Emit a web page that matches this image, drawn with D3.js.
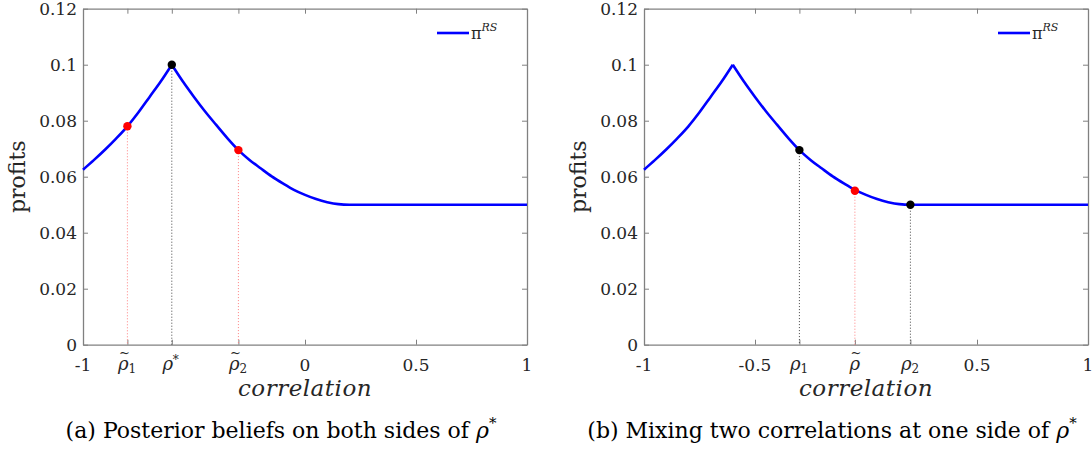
<!DOCTYPE html>
<html>
<head>
<meta charset="utf-8">
<script src="https://cdn.jsdelivr.net/npm/d3@7"></script>
<style>
  body { margin: 0; background: #fff; }
</style>
</head>
<body>
<svg width="1092" height="455" font-family="DejaVu Serif"></svg>
<script>
// profit curve: rising branch up to the kink, then falling branch
var rhoRise    = [-1, -0.95, -0.9, -0.85, -0.8, -0.75, -0.7, -0.65, -0.6];
var profitRise = [0.0625, 0.066, 0.0697, 0.0737, 0.078, 0.083, 0.0885, 0.094, 0.1];
var rhoFall    = [-0.6, -0.55, -0.5, -0.45, -0.4, -0.35, -0.3, -0.25, -0.2, -0.15, -0.1, -0.05, 0, 0.05, 0.1, 0.15, 0.2, 0.6, 1];
var profitFall = [0.1, 0.094, 0.0885, 0.0833, 0.0785, 0.0738, 0.0695, 0.066, 0.063, 0.0601, 0.0576, 0.0553, 0.0535, 0.052, 0.0509, 0.0502, 0.05, 0.05, 0.05];

var yTicks = [0, 0.02, 0.04, 0.06, 0.08, 0.1, 0.12];
var yTickLabels = ["0", "0.02", "0.04", "0.06", "0.08", "0.1", "0.12"];

// panel (a)
var xTicksA = [-1, -0.8, -0.6, -0.3, 0, 0.5, 1];
var xTickLabelsA = ["-1", "rt1", "rs", "rt2", "0", "0.5", "1"];
var markRhoA = [-0.8, -0.6, -0.3];
var markProfitA = [0.078, 0.1, 0.0695];
var markKindA = ["belief", "kink", "belief"];
var captionA = "(a) Posterior beliefs on both sides of ";

// panel (b)
var xTicksB = [-1, -0.5, -0.3, -0.05, 0.2, 0.5, 1];
var xTickLabelsB = ["-1", "-0.5", "r1", "rt", "r2", "0.5", "1"];
var markRhoB = [-0.3, -0.05, 0.2];
var markProfitB = [0.0695, 0.055, 0.05];
var markKindB = ["prior", "belief", "prior"];
var captionB = "(b) Mixing two correlations at one side of ";

var svg = d3.select("svg");
var kindColor = { belief: "#ff0000", kink: "#000000", prior: "#000000" };
var dropColor = { belief: "#ff8080", kink: "#444444", prior: "#444444" };
var axisColor = "#808080";
var ink = "#262626";

// writes a tick label; greek rho variants are built from small pieces
function tickLabel(g, cx, cy, code) {
  if (!/^r/.test(code)) {
    g.append("text").attr("x", cx).attr("y", cy).attr("text-anchor", "middle")
      .attr("font-size", 17).attr("fill", ink).text(code);
    return;
  }
  var tilde = code.charAt(1) === "t";
  var sub = code.replace(/^rt?/, "");
  var rx = sub ? cx - 4 : cx;
  g.append("text").attr("x", rx).attr("y", cy - 1).attr("text-anchor", "middle")
    .attr("font-size", 18).attr("font-style", "italic").attr("fill", ink).text("ρ");
  if (tilde) {
    g.append("text").attr("x", rx + 1).attr("y", cy - 14).attr("text-anchor", "middle")
      .attr("font-size", 13).attr("fill", ink).text("~");
  }
  if (sub === "s") {
    g.append("text").attr("x", rx + 5).attr("y", cy - 7).attr("font-size", 12)
      .attr("fill", ink).text("*");
  } else if (sub) {
    g.append("text").attr("x", rx + 5).attr("y", cy + 2).attr("font-size", 12)
      .attr("fill", ink).text(sub);
  }
}

function drawPanel(left, xTicks, xLabels, markRho, markProfit, markKind, caption, captionX) {
  var x = d3.scaleLinear().domain([-1, 1]).range([left, left + 444]);
  var y = d3.scaleLinear().domain([0, 0.12]).range([344.7, 8.7]);
  var g = svg.append("g");

  var axes = [
    { ax: d3.axisBottom(x).tickValues(xTicks), t: "translate(0," + y(0) + ")" },
    { ax: d3.axisTop(x).tickValues(xTicks), t: "translate(0," + y(0.12) + ")" },
    { ax: d3.axisLeft(y).tickValues(yTicks), t: "translate(" + x(-1) + ",0)" },
    { ax: d3.axisRight(y).tickValues(yTicks), t: "translate(" + x(1) + ",0)" }
  ];
  axes.forEach(function(a) {
    var ag = g.append("g").attr("transform", a.t)
      .call(a.ax.tickSizeInner(-5).tickSizeOuter(0).tickFormat(""));
    ag.attr("font-family", null);
    ag.select(".domain").attr("stroke", axisColor).attr("stroke-width", 1.3);
    ag.selectAll(".tick line").attr("stroke", axisColor);
  });

  // y tick labels
  g.selectAll(".ylab").data(yTicks).enter().append("text")
    .attr("x", x(-1) - 6).attr("y", function(d) { return y(d) + 6; })
    .attr("text-anchor", "end").attr("font-size", 17).attr("fill", ink)
    .text(function(d, i) { return yTickLabels[i]; });

  // x tick labels
  xTicks.forEach(function(d, i) { tickLabel(g, x(d), y(0) + 26, xLabels[i]); });

  // drop lines from the marked points
  g.selectAll(".drop").data(markRho).enter().append("line")
    .attr("x1", function(d) { return x(d); }).attr("x2", function(d) { return x(d); })
    .attr("y1", function(d, i) { return y(markProfit[i]); }).attr("y2", y(0))
    .attr("stroke", function(d, i) { return dropColor[markKind[i]]; })
    .attr("stroke-width", 1).attr("stroke-dasharray", "1,2");

  var line = d3.line()
    .x(function(d) { return x(d[0]); })
    .y(function(d) { return y(d[1]); })
    .curve(d3.curveMonotoneX);
  [d3.zip(rhoRise, profitRise), d3.zip(rhoFall, profitFall)].forEach(function(pts) {
    g.append("path").attr("d", line(pts)).attr("fill", "none")
      .attr("stroke", "#0000ff").attr("stroke-width", 2.6);
  });

  g.selectAll(".mark").data(markRho).enter().append("circle")
    .attr("cx", function(d) { return x(d); })
    .attr("cy", function(d, i) { return y(markProfit[i]); })
    .attr("r", 4.2)
    .attr("fill", function(d, i) { return kindColor[markKind[i]]; });

  // legend
  g.append("line").attr("x1", x(1) - 90).attr("x2", x(1) - 58)
    .attr("y1", 33).attr("y2", 33).attr("stroke", "#0000ff").attr("stroke-width", 2.6);
  var lt = g.append("text").attr("x", x(1) - 56).attr("y", 39).attr("font-size", 16).attr("fill", ink);
  lt.append("tspan").text("π");
  lt.append("tspan").attr("dy", -8).attr("font-size", 11).attr("font-style", "italic").text("RS");

  // axis titles
  g.append("text").attr("transform", "translate(" + (x(-1) - 58) + "," + y(0.06) + ") rotate(-90)")
    .attr("text-anchor", "middle").attr("font-size", 22).attr("fill", ink).text("profits");
  g.append("text").attr("x", x(0)).attr("y", y(0) + 51)
    .attr("text-anchor", "middle").attr("font-size", 23).attr("font-style", "italic")
    .attr("letter-spacing", 0.5).attr("fill", ink).text("correlation");

  // caption
  var cap = g.append("text").attr("x", captionX).attr("y", 438)
    .attr("text-anchor", "middle").attr("font-size", 22).attr("fill", "#000");
  cap.append("tspan").text(caption);
  cap.append("tspan").attr("font-style", "italic").text("ρ");
  cap.append("tspan").attr("dy", -10).attr("font-size", 15).text("*");
}

drawPanel(83, xTicksA, xTickLabelsA, markRhoA, markProfitA, markKindA, captionA, 281);
drawPanel(644, xTicksB, xTickLabelsB, markRhoB, markProfitB, markKindB, captionB, 832);
</script>
</body>
</html>
